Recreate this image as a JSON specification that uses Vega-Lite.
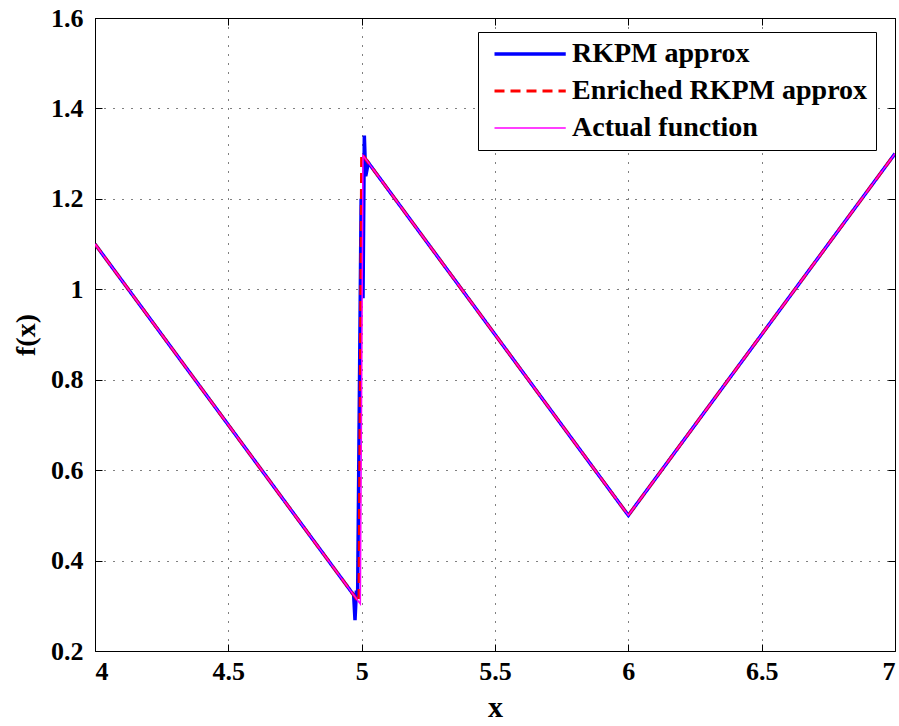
{
  "$schema": "https://vega.github.io/schema/vega-lite/v6.json",
  "width": 800,
  "height": 633,
  "autosize": {"type": "none"},
  "padding": {"left": 95, "top": 18, "right": 4, "bottom": 75},
  "background": "white",
  "config": {
    "view": {"stroke": "black", "strokeWidth": 1},
    "axis": {
      "labelFont": "Liberation Serif",
      "labelFontWeight": "bold",
      "labelFontSize": 26,
      "labelColor": "black",
      "titleFont": "Liberation Serif",
      "titleFontWeight": "bold",
      "titleColor": "black",
      "domain": false,
      "tickColor": "black",
      "tickWidth": 1,
      "gridColor": "black",
      "gridDash": [1, 8],
      "gridOpacity": 1,
      "gridWidth": 1
    },
    "legend": {
      "labelFont": "Liberation Serif",
      "labelFontWeight": "bold",
      "labelFontSize": 28,
      "labelColor": "black",
      "labelLimit": 500
    }
  },
  "data": {
    "values": [
      {"x": 4, "y": 1.1, "series": "RKPM approx"},
      {"x": 4.5, "y": 0.7, "series": "RKPM approx"},
      {"x": 4.96, "y": 0.332, "series": "RKPM approx"},
      {"x": 4.97, "y": 0.324, "series": "RKPM approx"},
      {"x": 4.975, "y": 0.268, "series": "RKPM approx"},
      {"x": 4.98, "y": 0.33, "series": "RKPM approx"},
      {"x": 4.985, "y": 0.33, "series": "RKPM approx"},
      {"x": 4.998, "y": 1.2, "series": "RKPM approx"},
      {"x": 5.005, "y": 0.98, "series": "RKPM approx"},
      {"x": 5.01, "y": 1.34, "series": "RKPM approx"},
      {"x": 5.015, "y": 1.25, "series": "RKPM approx"},
      {"x": 5.025, "y": 1.28, "series": "RKPM approx"},
      {"x": 5.5, "y": 0.9, "series": "RKPM approx"},
      {"x": 6, "y": 0.5, "series": "RKPM approx"},
      {"x": 6.5, "y": 0.9, "series": "RKPM approx"},
      {"x": 7, "y": 1.3, "series": "RKPM approx"},
      {"x": 4, "y": 1.1, "series": "Enriched RKPM approx"},
      {"x": 4.5, "y": 0.7, "series": "Enriched RKPM approx"},
      {"x": 4.99, "y": 0.308, "series": "Enriched RKPM approx"},
      {"x": 5.0, "y": 1.3, "series": "Enriched RKPM approx"},
      {"x": 5.5, "y": 0.9, "series": "Enriched RKPM approx"},
      {"x": 6, "y": 0.5, "series": "Enriched RKPM approx"},
      {"x": 6.5, "y": 0.9, "series": "Enriched RKPM approx"},
      {"x": 7, "y": 1.3, "series": "Enriched RKPM approx"},
      {"x": 4, "y": 1.1, "series": "Actual function"},
      {"x": 4.995, "y": 0.304, "series": "Actual function"},
      {"x": 5.005, "y": 1.296, "series": "Actual function"},
      {"x": 6, "y": 0.5, "series": "Actual function"},
      {"x": 7, "y": 1.3, "series": "Actual function"}
    ]
  },
  "layer": [
    {
      "mark": {"type": "line", "clip": true},
      "encoding": {
        "x": {
          "field": "x", "type": "quantitative",
          "scale": {"domain": [4, 7], "nice": false, "zero": false},
          "axis": {"orient": "bottom", "values": [4, 4.5, 5, 5.5, 6, 6.5, 7], "format": "~g", "offset": -7, "tickSize": 7, "labelPadding": 7, "title": "x", "titleFontSize": 30, "titlePadding": 8, "grid": true}
        },
        "y": {
          "field": "y", "type": "quantitative",
          "scale": {"domain": [0.2, 1.6], "nice": false, "zero": false},
          "axis": {"orient": "left", "values": [0.2, 0.4, 0.6, 0.8, 1, 1.2, 1.4, 1.6], "format": "~g", "offset": -7, "tickSize": 7, "labelPadding": 12, "title": "f(x)", "titleFontSize": 28, "titlePadding": 10, "grid": true}
        },
        "color": {
          "field": "series", "type": "nominal",
          "scale": {"domain": ["RKPM approx", "Enriched RKPM approx", "Actual function"], "range": ["#0000ff", "#ff0000", "#ff00ff"]},
          "legend": {
            "title": null, "orient": "none", "legendX": 383, "legendY": 14,
            "strokeColor": "black", "fillColor": "white", "padding": 8,
            "symbolType": "M-0.733,0H8.767", "symbolSize": 225, "labelOffset": 58, "rowPadding": 9
          }
        },
        "strokeDash": {
          "field": "series", "type": "nominal",
          "scale": {"domain": ["RKPM approx", "Enriched RKPM approx", "Actual function"], "range": [[1, 0], [10, 6], [1, 0]]},
          "legend": {
            "title": null, "orient": "none", "legendX": 383, "legendY": 14,
            "strokeColor": "black", "fillColor": "white", "padding": 8,
            "symbolType": "M-0.733,0H8.767", "symbolSize": 225, "labelOffset": 58, "rowPadding": 9
          }
        },
        "strokeWidth": {
          "field": "series", "type": "nominal",
          "scale": {"type": "ordinal", "domain": ["RKPM approx", "Enriched RKPM approx", "Actual function"], "range": [3.5, 3, 1.5]},
          "legend": {
            "title": null, "orient": "none", "legendX": 383, "legendY": 14,
            "strokeColor": "black", "fillColor": "white", "padding": 8,
            "symbolType": "M-0.733,0H8.767", "symbolSize": 225, "labelOffset": 58, "rowPadding": 9
          }
        }
      }
    },
    {
      "mark": {"type": "point", "opacity": 0},
      "encoding": {
        "x": {"field": "x", "type": "quantitative", "axis": {"orient": "top", "values": [4, 4.5, 5, 5.5, 6, 6.5, 7], "labels": false, "offset": -7, "tickSize": 7, "title": null, "grid": false}},
        "y": {"field": "y", "type": "quantitative", "axis": {"orient": "right", "values": [0.2, 0.4, 0.6, 0.8, 1, 1.2, 1.4, 1.6], "labels": false, "offset": -7, "tickSize": 7, "title": null, "grid": false}}
      }
    }
  ],
  "resolve": {"axis": {"x": "independent", "y": "independent"}}
}
